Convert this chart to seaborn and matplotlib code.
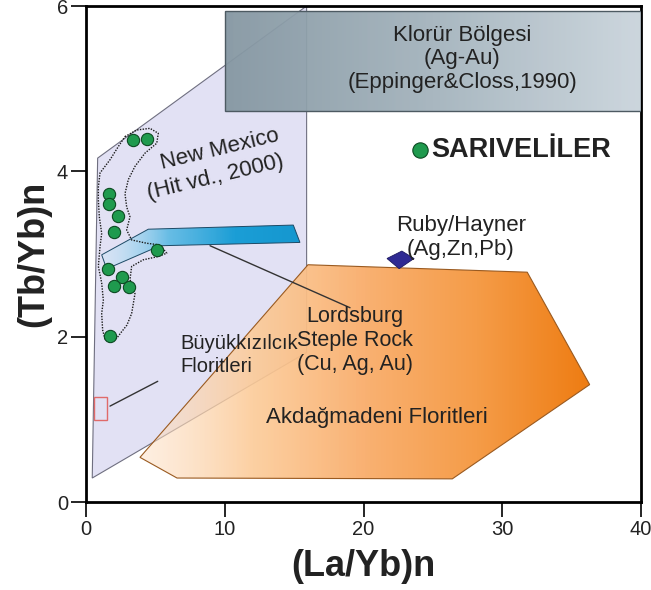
import numpy as np
import pandas as pd
import matplotlib
matplotlib.use("Agg")
import matplotlib.pyplot as plt
import seaborn as sns
from matplotlib.patches import Polygon, Rectangle
from matplotlib.colors import LinearSegmentedColormap

# --- Sarıveliler fluorite samples ---------------------------------------
la_yb = [3.37, 4.37, 1.66, 1.66, 2.31, 2.02, 5.10, 1.59, 2.57, 2.02, 3.10, 1.73]
tb_yb = [4.38, 4.39, 3.73, 3.60, 3.46, 3.27, 3.05, 2.82, 2.72, 2.61, 2.60, 2.01]
sample_label = "SARIVELİLER"

# --- reference fields ---------------------------------------------------
new_mexico_x = [0.45, 0.84, 15.9, 15.9]
new_mexico_y = [0.29, 4.16, 6.0, 1.81]

akdag_x = [3.89, 16.0, 31.8, 36.3, 26.4, 6.56]
akdag_y = [0.54, 2.87, 2.78, 1.42, 0.28, 0.29]

lordsburg_x = [1.13, 4.49, 14.94, 15.42, 5.33, 1.49]
lordsburg_y = [2.99, 3.30, 3.35, 3.14, 3.10, 2.82]

klorur_x = [10.0, 40.0]
klorur_y = [4.73, 5.94]

buyuk_x = [0.60, 1.54]
buyuk_y = [0.99, 1.27]

ruby_x = [22.6]
ruby_y = [2.95]

# hand-drawn envelope around the samples
envelope_x = [2.81, 3.65, 4.61, 5.21, 5.10, 4.25, 3.53, 3.05, 2.81, 2.93, 3.17, 2.93,
              3.29, 4.37, 5.33, 5.82, 5.21, 4.13, 3.29, 3.17, 3.53, 3.29, 2.95, 2.57,
              2.21, 1.73, 1.37, 1.20, 1.13, 1.25, 1.13, 0.89, 1.01, 1.13, 0.96, 0.89,
              0.89, 1.01, 1.73, 2.33, 2.81]
envelope_y = [4.42, 4.50, 4.52, 4.46, 4.34, 4.22, 4.06, 3.90, 3.73, 3.57, 3.45, 3.29,
              3.17, 3.13, 3.11, 3.01, 2.97, 2.93, 2.85, 2.69, 2.52, 2.28, 2.14, 2.06,
              1.98, 1.93, 1.97, 2.08, 2.28, 2.44, 2.65, 2.85, 3.09, 3.25, 3.45, 3.65,
              3.81, 3.98, 4.14, 4.30, 4.42]

# leader lines (field -> label)
lords_leader_x = [8.94, 19.03]
lords_leader_y = [3.10, 2.35]
buyuk_leader_x = [1.73, 5.17]
buyuk_leader_y = [1.16, 1.46]

x_ticks = [0, 10, 20, 30, 40]
y_ticks = [0, 2, 4, 6]

# ------------------------------------------------------------------------
sns.set_theme(style="ticks")
plt.rcParams["font.family"] = ["Liberation Sans", "DejaVu Sans"]

fig = plt.figure(figsize=(6.51, 5.90), dpi=100)
ax = fig.add_axes([86 / 651, 1 - 502 / 590, 555 / 651, 496 / 590])

TXT = "#222222"
FS = 16
LS = 1.18


def gradient_field(xs, ys, colors, alphas, edgecolor, lw, zorder):
    """Fill a polygon with a left-to-right colour/alpha gradient."""
    verts = np.column_stack([xs, ys])
    outline = Polygon(verts, closed=True, facecolor="none",
                      edgecolor=edgecolor, linewidth=lw, zorder=zorder + 0.1)
    ax.add_patch(outline)
    clip = Polygon(verts, closed=True, facecolor="none", edgecolor="none",
                   transform=ax.transData)
    cmap = LinearSegmentedColormap.from_list("g", colors)
    t = np.linspace(0, 1, 256)
    rgba = cmap(t)
    rgba[:, 3] = np.interp(t, np.linspace(0, 1, len(alphas)), alphas)
    img = ax.imshow(rgba[None, :, :], extent=(min(xs), max(xs), min(ys), max(ys)),
                    aspect="auto", interpolation="bilinear", zorder=zorder,
                    origin="lower")
    img.set_clip_path(clip)


# New Mexico field
ax.add_patch(Polygon(np.column_stack([new_mexico_x, new_mexico_y]), closed=True,
                     facecolor="#e2e1f4", edgecolor="#6f6f80", linewidth=0.8,
                     zorder=1))

# Akdağmadeni field
gradient_field(akdag_x, akdag_y,
               ["#fde0c6", "#fccb98", "#f9b172", "#f59c48", "#ee7c12"],
               [0.5, 0.9, 1.0, 1.0, 1.0], "#9a5a20", 0.8, zorder=2)

# Lordsburg / Steple Rock band
gradient_field(lordsburg_x, lordsburg_y,
               ["#c4e7f6", "#5ab9e4", "#1b9ed6", "#1597cf"],
               [0.3, 0.9, 1.0, 1.0], "#1d4a66", 0.7, zorder=3)

# Klorür zone box
kx = np.array(klorur_x)
ky = np.array(klorur_y)
gradient_field([kx[0], kx[1], kx[1], kx[0]], [ky[0], ky[0], ky[1], ky[1]],
               ["#8597a2", "#a1b1bb", "#c7d2da"], [0.95, 0.92, 0.9],
               "#4d5a62", 1.0, zorder=4)

# Büyükkızılcık box
ax.add_patch(Rectangle((buyuk_x[0], buyuk_y[0]), buyuk_x[1] - buyuk_x[0],
                       buyuk_y[1] - buyuk_y[0], facecolor="none",
                       edgecolor="#e06a6a", linewidth=1.0, zorder=5))

# Ruby/Hayner point
ruby_marker = [(-1.0, 0.0), (0.1, 0.55), (1.0, 0.0), (-0.1, -0.75), (-1.0, 0.0)]
ax.scatter(ruby_x, ruby_y, marker=ruby_marker, s=380, color="#2f2a93",
           edgecolor="#1c1860", linewidth=0.6, zorder=6)

# leader lines and envelope
ax.plot(lords_leader_x, lords_leader_y, color="#333333", lw=1.0, zorder=6)
ax.plot(buyuk_leader_x, buyuk_leader_y, color="#333333", lw=1.0, zorder=6)
ax.plot(envelope_x, envelope_y, color="#1a1a1a", lw=1.0, ls=(0, (1.0, 1.0)),
        zorder=6)

# samples
df = pd.DataFrame({"La/Yb": la_yb, "Tb/Yb": tb_yb})
sns.scatterplot(data=df, x="La/Yb", y="Tb/Yb", ax=ax, s=78, color="#1f9a4e",
                edgecolor="#0c4a22", linewidth=0.8, zorder=7, label=sample_label)

# field labels
ax.text(27.1, 5.36, "Klorür Bölgesi\n(Ag-Au)\n(Eppinger&Closs,1990)",
        ha="center", va="center", fontsize=FS, color=TXT, linespacing=LS,
        zorder=8)
ax.text(9.66, 4.26, "New Mexico", ha="center", va="center",
        fontsize=FS, color=TXT, rotation=13.5, zorder=8, rotation_mode="anchor")
ax.text(9.30, 3.92, "(Hit vd., 2000)", ha="center", va="center",
        fontsize=FS, color=TXT, rotation=13.5, zorder=8, rotation_mode="anchor")
ax.text(19.4, 1.95, "Lordsburg\nSteple Rock\n(Cu, Ag, Au)", ha="center",
        va="center", fontsize=15.5, color=TXT, linespacing=LS, zorder=8)
ax.text(6.77, 1.78, "Büyükkızılcık\nFloritleri", ha="left", va="center",
        fontsize=14.5, color=TXT, linespacing=1.3, zorder=8)
ax.text(21.0, 1.02, "Akdağmadeni Floritleri", ha="center", va="center",
        fontsize=FS, color=TXT, zorder=8)
ax.text(27.0, 3.20, "Ruby/Hayner\n(Ag,Zn,Pb)", ha="center", va="center",
        fontsize=FS, color=TXT, linespacing=LS, zorder=8)

leg = ax.legend(loc="center left", bbox_to_anchor=(0.59, 0.71), frameon=False,
                borderaxespad=0, borderpad=0, handlelength=0.5,
                handletextpad=0.15, markerscale=1.25,
                prop={"weight": "bold", "size": 19.5})
for t in leg.get_texts():
    t.set_color(TXT)

# axes
ax.set_xlim(0, 40)
ax.set_ylim(0, 6)
ax.set_xticks(x_ticks)
ax.set_yticks(y_ticks)
ax.tick_params(direction="out", length=11, width=1.2, labelsize=14.5,
               color="black", labelcolor=TXT, pad=2)
for sp in ax.spines.values():
    sp.set_visible(True)
    sp.set_linewidth(2.0)
    sp.set_color("black")
ax.set_xlabel("(La/Yb)n", fontsize=26, fontweight="bold", color=TXT, labelpad=7)
ax.set_ylabel("(Tb/Yb)n", fontsize=26, fontweight="bold", color=TXT, labelpad=4)

fig.savefig("out.png", dpi=100)
